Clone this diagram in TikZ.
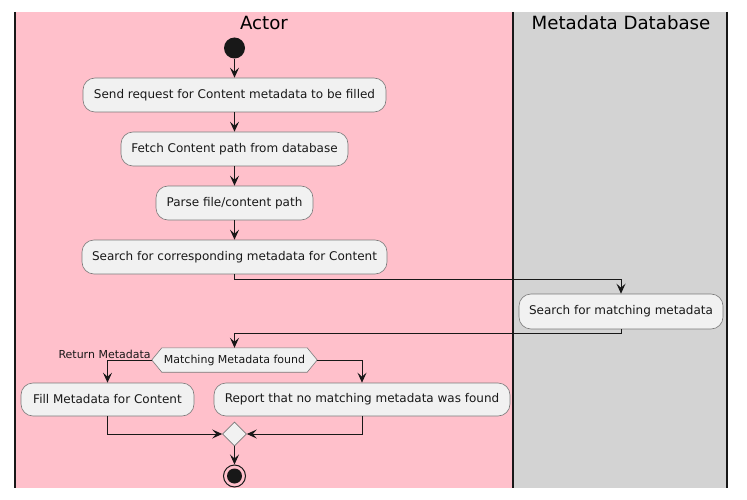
\documentclass[tikz,border=0pt]{standalone}
\usepackage{fontspec}
\setmainfont{DejaVu Sans}
\usetikzlibrary{arrows.meta,calc,positioning,shapes.geometric}
\definecolor{lanepink}{HTML}{FFC0CB}
\definecolor{lanegray}{HTML}{D3D3D3}
\definecolor{boxfill}{HTML}{F1F1F1}
\definecolor{boxline}{HTML}{7A7A7A}
\definecolor{ink}{HTML}{181818}
\tikzset{
  act/.style={draw=boxline, line width=0.6pt, fill=boxfill, rounded corners=12pt,
    minimum height=34pt, inner sep=0pt, font=\fontsize{12}{14}\selectfont, text=ink},
  flow/.style={draw=ink, line width=1pt, -{Stealth[length=10pt,width=9pt,inset=4pt]}},
  lanetitle/.style={font=\fontsize{18.2}{21}\selectfont, text=black},
  laneline/.style={draw=ink, line width=1.6pt},
  dectext/.style={inner sep=0pt, minimum width=165pt, minimum height=24pt, font=\fontsize{11}{13}\selectfont, text=ink},
}
\begin{document}
\begin{tikzpicture}[x=1pt,y=1pt]
\useasboundingbox (0,0) rectangle (747,-500);
% lanes
\fill[lanepink] (15,-12) rectangle (513,-488);
\fill[lanegray] (513,-12) rectangle (727,-488);
\draw[laneline] (15,-12) -- (15,-488);
\draw[laneline] (513,-12) -- (513,-488);
\draw[laneline] (727,-12) -- (727,-488);
\node[lanetitle] (t1) at (264,-23) {Actor};
\node[lanetitle] (t2) at (621,-23) {Metadata Database};
% nodes
\node[circle, fill=ink, minimum size=21pt, inner sep=0pt] (start) at (234.5,-48) {};
\node[act, minimum width=303pt] (b1) at (234.5,-95) {Send request for Content metadata to be filled};
\node[act, minimum width=227pt] (b2) at (234.5,-149) {Fetch Content path from database};
\node[act, minimum width=157pt] (b3) at (234.5,-203) {Parse file/content path};
\node[act, minimum width=305pt] (b4) at (234.5,-257) {Search for corresponding metadata for Content};
\node[act, minimum width=204pt, minimum height=35pt] (b5) at (621,-311.5) {Search for matching metadata};
\node[dectext] (d) at (234.5,-360) {};
\draw[draw=boxline, line width=0.6pt, fill=boxfill]
  (d.west) -- ($(d.north west)+(10,0)$) -- ($(d.north east)+(-10,0)$) -- (d.east)
  -- ($(d.south east)+(-10,0)$) -- ($(d.south west)+(10,0)$) -- cycle;
\node[dectext] (dt) at (d) {Matching Metadata found};
\node[anchor=south east, inner sep=1pt, font=\fontsize{11}{13}\selectfont, text=ink] (lbl) at (d.west) {Return Metadata};
\node[act, minimum width=173pt, minimum height=33pt] (f) at (107.5,-399.5) {Fill Metadata for Content};
\node[act, minimum width=296pt, minimum height=33pt] (r) at (362,-399.5) {Report that no matching metadata was found};
\node[diamond, draw=boxline, line width=0.6pt, fill=boxfill, minimum size=24pt, inner sep=0pt] (m) at (234.5,-434) {};
\node[circle, draw=ink, line width=1pt, minimum size=22pt, inner sep=0pt] (endo) at (234.5,-476) {};
\node[circle, fill=ink, minimum size=15pt, inner sep=0pt] (endi) at (endo) {};
% connectors
\draw[flow] (start) -- (b1);
\draw[flow] (b1) -- (b2);
\draw[flow] (b2) -- (b3);
\draw[flow] (b3) -- (b4);
\draw[flow] (b4.south) -- ++(0,-5) -| (b5.north);
\draw[flow] (b5.south) -- ++(0,-4) -| (d.north);
\draw[flow] (d.west) -| (f.north);
\draw[flow] (d.east) -| (r.north);
\draw[flow] (f.south) |- (m.west);
\draw[flow] (r.south) |- (m.east);
\draw[flow] (m.south) -- (endo.north);
\end{tikzpicture}
\end{document}
